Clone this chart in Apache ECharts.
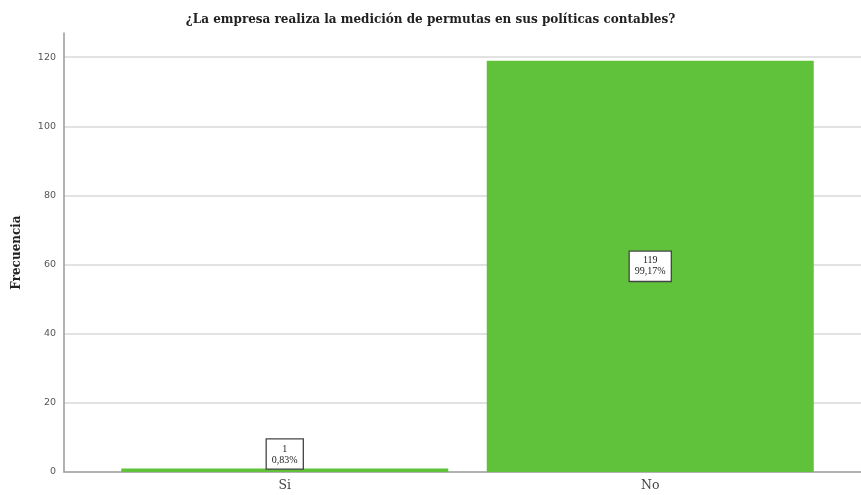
<!DOCTYPE html>
<html><head><meta charset="utf-8">
<script src="https://cdn.jsdelivr.net/npm/echarts@6/dist/echarts.min.js"></script>
<style>html,body{margin:0;padding:0;background:#fff}#c{width:861px;height:495px}</style>
</head><body><div id="c"></div>
<script>
const categories = ['Si', 'No'];
const values = [1, 119];
const percents = ['0,83%', '99,17%'];
const yTicks = [0, 20, 40, 60, 80, 100, 120];

const chart = echarts.init(document.getElementById('c'));
const serif = '"Liberation Serif", "DejaVu Serif", serif';
const wideSerif = '"DejaVu Serif", "Liberation Serif", serif';
const labelStyle = {
  show: true,
  formatter: p => values[p.dataIndex] + '\n' + percents[p.dataIndex],
  color: '#222', fontFamily: serif, fontSize: 10, lineHeight: 11,
  backgroundColor: '#fff', borderColor: '#444', borderWidth: 1.3,
  padding: [4, 5, 3, 5]
};
chart.setOption({
  animation: false,
  title: {
    text: '¿La empresa realiza la medición de permutas en sus políticas contables?',
    left: 'center', top: 9,
    textStyle: { fontFamily: wideSerif, fontWeight: 'bold', fontSize: 12, color: '#222' }
  },
  grid: [
    { left: 64, right: 0, top: 33, bottom: 23 },
    { left: 102, right: 28, top: 33, bottom: 23 }
  ],
  xAxis: [
    { type: 'value', gridIndex: 0, min: 0, max: 1, axisLine: { show: true, onZero: false, lineStyle: { color: '#999', width: 1.5 } },
      axisTick: { show: false }, axisLabel: { show: false }, splitLine: { show: false } },
    { type: 'category', gridIndex: 1, data: categories, axisLine: { show: false }, axisTick: { show: false },
      axisLabel: { color: '#444', fontFamily: wideSerif, fontSize: 12.5, margin: 7 } }
  ],
  yAxis: [
    { type: 'value', gridIndex: 0, min: 0, max: 127, interval: 20,
      name: 'Frecuencia', nameLocation: 'middle', nameGap: 41, nameRotate: 90,
      nameTextStyle: { fontFamily: wideSerif, fontWeight: 'bold', fontSize: 12, color: '#222' },
      axisLine: { show: true, lineStyle: { color: '#999', width: 1.5 } },
      axisTick: { show: false },
      axisLabel: { showMaxLabel: false, color: '#555', fontSize: 9.5, fontFamily: '"DejaVu Sans", sans-serif', margin: 8,
        formatter: v => yTicks.includes(v) ? String(v) : '' },
      splitLine: { show: true, showMinLine: false, showMaxLine: false, lineStyle: { color: '#d9d9d9', width: 1.5 } } },
    { type: 'value', gridIndex: 1, min: 0, max: 127, show: false, splitLine: { show: false } }
  ],
  series: [{
    type: 'bar', xAxisIndex: 1, yAxisIndex: 1,
    data: values.map((v, i) => ({
      value: v,
      label: Object.assign({}, labelStyle, i === 0 ? { position: 'top', distance: 0 } : { position: 'inside' })
    })),
    barWidth: 327,
    itemStyle: { color: '#5fc23a' }
  }]
});
</script></body></html>
